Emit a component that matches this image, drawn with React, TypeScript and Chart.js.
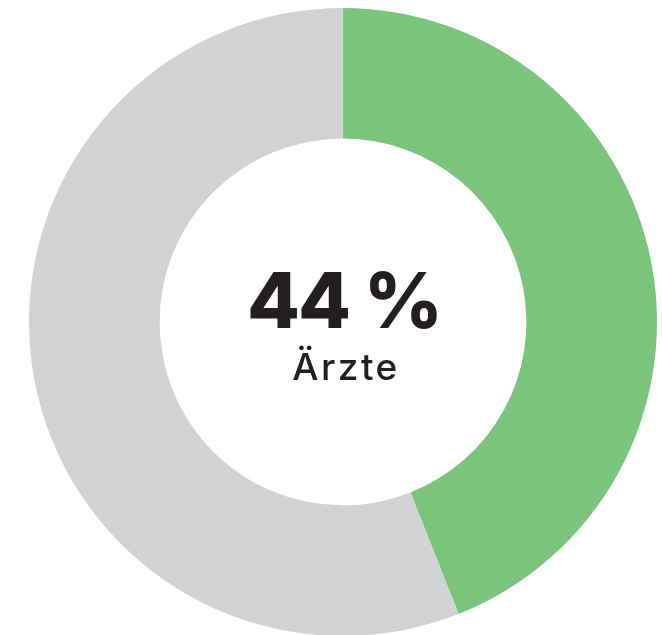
import React, { useEffect, useRef } from "react";
import { Chart, registerables } from "chart.js";

Chart.register(...registerables);

const labels = ["Ärzte", "Andere"];
const values = [44, 56];
const colors = ["#7BC47B", "#D1D2D4"];
const centerValue = "44 %";
const centerLabel = "Ärzte";

const centerTextPlugin = {
  id: "centerText",
  afterDraw(chart: any) {
    const meta = chart.getDatasetMeta(0);
    const arc = meta.data[0];
    if (!arc) return;
    const { x, y } = arc;
    const ctx = chart.ctx;
    ctx.save();
    ctx.fillStyle = "#231F20";
    ctx.textAlign = "center";
    ctx.textBaseline = "alphabetic";
    ctx.font = "800 77px Inter";
    (ctx as any).letterSpacing = "-2px";
    ctx.fillText(centerValue, x + 1, y + 6);
    ctx.font = "500 37px Inter";
    (ctx as any).letterSpacing = "2.5px";
    ctx.fillText(centerLabel, x + 3, y + 58);
    ctx.restore();
  },
};

export default function App() {
  const ref = useRef<HTMLCanvasElement>(null);
  useEffect(() => {
    if (!ref.current) return;
    const chart = new Chart(ref.current, {
      type: "doughnut",
      data: {
        labels,
        datasets: [
          {
            data: values,
            backgroundColor: colors,
            borderWidth: 0,
            hoverOffset: 0,
          },
        ],
      },
      options: {
        animation: false,
        responsive: false,
        radius: 314,
        cutout: "58.4%",
        layout: { padding: { left: 24, right: 0, top: 9, bottom: 0 } },
        plugins: {
          legend: { display: false },
          tooltip: { enabled: false },
        },
      } as any,
      plugins: [centerTextPlugin],
    });
    return () => chart.destroy();
  }, []);
  return (
    <div style={{ position: "absolute", left: 0, top: 0, width: 662, height: 635 }}>
      <canvas ref={ref} width={662} height={635} style={{ width: 662, height: 635 }} />
    </div>
  );
}
